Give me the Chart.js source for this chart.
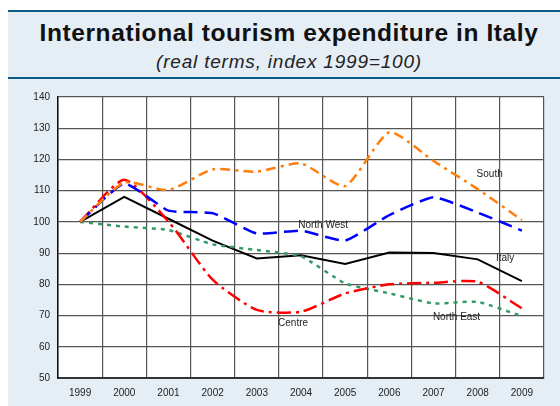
<!DOCTYPE html>
<html>
<head>
<meta charset="utf-8">
<script src="https://cdn.jsdelivr.net/npm/chart.js@4.4.1/dist/chart.umd.min.js"></script>
<style>
  body { margin: 0; background: #fff; font-family: "Liberation Sans", Arial, sans-serif; }
  #panel { position: absolute; left: 8px; top: 10px; width: 552px; height: 396px; background: #e5edf5; border-top: 2px solid #0d5a84; }
  #head { height: 65px; border-bottom: 2px solid #0d5a84; text-align: center; padding-left: 10px; box-sizing: content-box; }
  #title { font-weight: bold; font-size: 24.5px; letter-spacing: 0.6px; color: #111; padding-top: 7px; line-height: 28px; white-space: nowrap; }
  #subtitle { font-style: italic; font-size: 19px; letter-spacing: 0.8px; color: #222; line-height: 22px; margin-top: 4px; white-space: nowrap; }
  #wrap { position: absolute; left: 0; top: 80px; width: 560px; height: 326px; }
</style>
</head>
<body>
<div id="panel">
  <div id="head">
    <div id="title">International tourism expenditure in Italy</div>
    <div id="subtitle">(real terms, index 1999=100)</div>
  </div>
</div>
<div id="wrap"><canvas id="chart"></canvas></div>
<script>
// Data
const years = ['1999', '2000', '2001', '2002', '2003', '2004', '2005', '2006', '2007', '2008', '2009'];
const italy = [100, 108, 101, 94, 88.3, 89.3, 86.5, 90.2, 90, 88, 81];
const northWest = [100, 112.3, 103.6, 102.8, 96.3, 97.2, 94, 102.2, 107.9, 103, 97.2];
const south = [100, 112.6, 110.2, 116.8, 116.1, 118.7, 111.5, 128.7, 119.5, 110.5, 100.6];
const centre = [100, 113.5, 100.1, 81.5, 71.8, 71.2, 77.1, 80, 80.5, 80.8, 72.3];
const northEast = [100, 98.5, 97.4, 92.8, 91, 89, 80.3, 77.1, 73.9, 74.4, 69.8];

// Series name labels drawn inside the plot (category index, value)
const seriesLabels = [
    { text: 'South', x: 9.27, y: 115.3 },
    { text: 'North West', x: 5.5, y: 99 },
    { text: 'Italy', x: 9.62, y: 88.3 },
    { text: 'Centre', x: 4.82, y: 67.5 },
    { text: 'North East', x: 8.52, y: 69.3 }
];

const labelPlugin = {
    id: 'seriesLabels',
    afterDatasetsDraw(chart) {
        const ctx = chart.ctx;
        const xs = chart.scales.x, ys = chart.scales.y;
        ctx.save();
        ctx.font = '10px "Liberation Sans", Arial, sans-serif';
        ctx.fillStyle = '#222';
        ctx.textAlign = 'center';
        ctx.textBaseline = 'middle';
        seriesLabels.forEach(l => {
            ctx.fillText(l.text, xs.getPixelForValue(l.x), ys.getPixelForValue(l.y));
        });
        ctx.restore();
    }
};

const plotBg = {
    id: 'plotBg',
    beforeDraw(chart) {
        const a = chart.chartArea;
        chart.ctx.save();
        chart.ctx.fillStyle = '#fff';
        chart.ctx.fillRect(a.left, a.top, a.right - a.left, a.bottom - a.top);
        chart.ctx.restore();
    }
};

function ds(label, data, color, dash, width, tension) {
    return {
        label: label,
        data: data,
        borderColor: color,
        borderWidth: width,
        borderDash: dash,
        pointRadius: 0,
        fill: false,
        tension: tension
    };
}

new Chart(document.getElementById('chart'), {
    type: 'line',
    data: {
        labels: years,
        datasets: [
            ds('South', south, '#ff7f0e', [10, 5, 3, 5], 2.5, 0.2),
            ds('North West', northWest, '#0000ff', [14, 7], 2.5, 0.15),
            ds('Centre', centre, '#ff0000', [14, 5, 3, 5], 2.5, 0.2),
            ds('North East', northEast, '#339966', [4, 5], 2.5, 0.15),
            ds('Italy', italy, '#000', [], 2, 0)
        ]
    },
    options: {
        responsive: true,
        maintainAspectRatio: false,
        animation: false,
        layout: { padding: { left: 8, right: 16, top: 17, bottom: 0 } },
        plugins: { legend: { display: false }, tooltip: { enabled: false } },
        scales: {
            x: {
                offset: true,
                grid: { offset: true, color: '#555', lineWidth: 1.2, drawTicks: false },
                border: { color: '#333', width: 2 },
                ticks: { color: '#222', font: { size: 10, family: '"Liberation Sans", Arial' }, padding: 9, maxRotation: 0 },
                afterFit(s) { s.height = 28; }
            },
            y: {
                min: 50,
                max: 140,
                grid: { color: '#555', lineWidth: 1.2, drawTicks: false },
                border: { color: '#111', width: 1.5 },
                ticks: { stepSize: 10, color: '#222', font: { size: 10, family: '"Liberation Sans", Arial' }, padding: 8 },
                afterFit(s) { s.width = 50; }
            }
        }
    },
    plugins: [plotBg, labelPlugin]
});
</script>
</body>
</html>
